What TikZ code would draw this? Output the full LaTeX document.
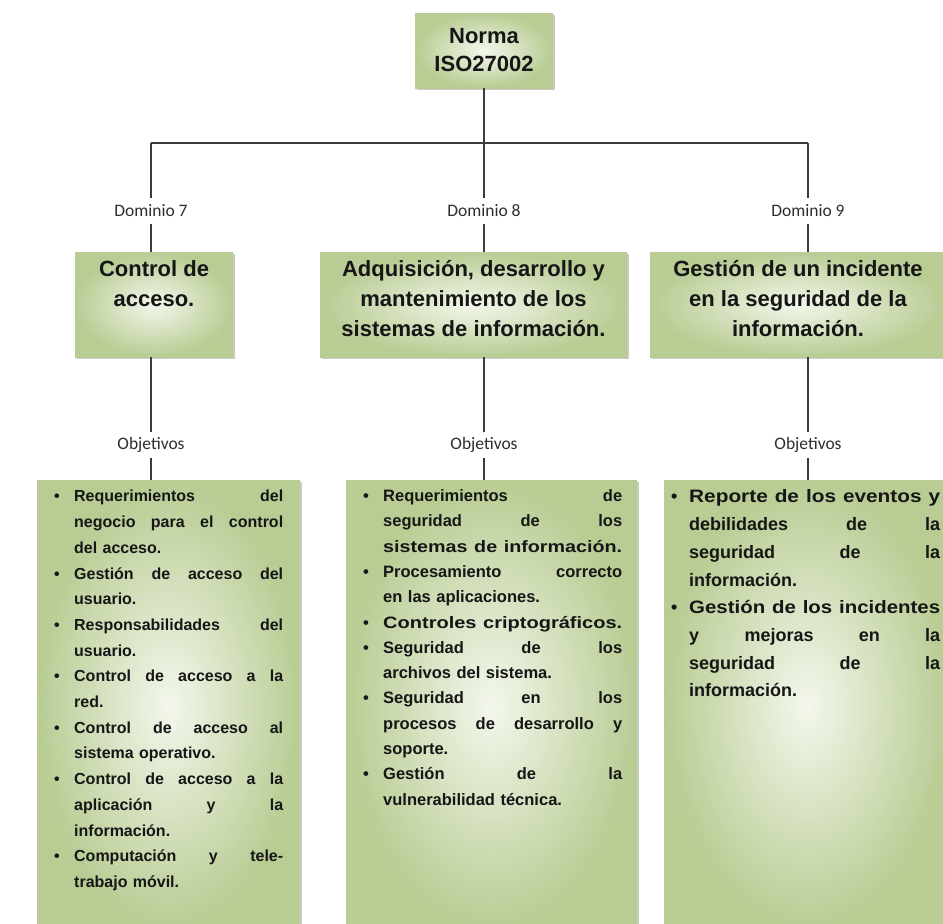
\documentclass[tikz,border=0pt]{standalone}
\usepackage{graphicx}
\usepackage{fontspec}
\setmainfont{Liberation Sans}
\newfontfamily\lblfont{Carlito}
\usetikzlibrary{shadows}

\definecolor{gouter}{HTML}{B8CC93}
\definecolor{ginner}{HTML}{F3F7EC}
\definecolor{wire}{HTML}{3C3C3C}
\definecolor{ink}{HTML}{161616}
\definecolor{lbl}{HTML}{2E2E2E}

\setlength\parskip{0pt}
\newlength\bind
\newlength\colw
% bullet lines: justified (spread words), fitted (widened glyphs) or natural width
\newcommand\bmark{\makebox[\bind][l]{\hspace{1pt}\textbullet}}
\newcommand\bfull[1]{\par\noindent\strut\bmark\hbox to \dimexpr\colw-\bind\relax{#1}}
\newcommand\bfit[1]{\par\noindent\strut\bmark\resizebox{\dimexpr\colw-\bind\relax}{\height}{#1}}
\newcommand\bnat[1]{\par\noindent\strut\bmark#1}
\newcommand\cfull[1]{\par\noindent\strut\hspace*{\bind}\hbox to \dimexpr\colw-\bind\relax{#1}}
\newcommand\cfit[1]{\par\noindent\strut\hspace*{\bind}\resizebox{\dimexpr\colw-\bind\relax}{\height}{#1}}
\newcommand\cnat[1]{\par\noindent\strut\hspace*{\bind}#1}
\newcommand\gap{\hspace{0pt plus 1fill}}

\tikzset{
  gbox/.style={rectangle, inner sep=0pt, inner color=ginner, outer color=gouter,
    drop shadow={shadow xshift=2pt, shadow yshift=-2pt, fill=black!45, opacity=.45}},
  ttl/.style={inner sep=0pt, align=center, text=ink,
    font=\fontsize{22}{30}\selectfont\bfseries},
  lab/.style={inner sep=0pt, minimum height=26pt, text=lbl,
    font=\lblfont\fontsize{17.5}{20}\selectfont},
  btext/.style={inner sep=0pt, anchor=north west, text=ink, align=left},
  wire/.style={draw=wire, line width=1.4pt}
}

\begin{document}
\begin{tikzpicture}[x=1pt,y=-1pt]
\useasboundingbox (0,0) rectangle (943,924);
\fill[white] (0,0) rectangle (943,924);

% root
\node[gbox, minimum width=138pt, minimum height=75pt] (iso) at (484,50.5) {};
\node[ttl, font=\fontsize{22}{28}\selectfont\bfseries] (isot) at (iso.center) {Norma\\ISO27002};

% bus
\coordinate (j7) at (151,143);
\coordinate (j8) at (484,143);
\coordinate (j9) at (808,143);

% domain labels
\node[lab] (d7) at (151,211) {Dominio 7};
\node[lab] (d8) at (484,211) {Dominio 8};
\node[lab] (d9) at (808,211) {Dominio 9};

% domain boxes
\node[gbox, minimum width=158pt, minimum height=105pt] (c7) at (154,304.5) {};
\node[gbox, minimum width=307pt, minimum height=105pt] (c8) at (473.5,304.5) {};
\node[gbox, minimum width=296pt, minimum height=105pt] (c9) at (798,304.5) {};
\node[ttl, anchor=north] (c7t) at ([yshift=-3pt]c7.north) {\strut Control de\\acceso.};
\node[ttl, anchor=north] (c8t) at ([yshift=-3pt]c8.north) {\strut Adquisición, desarrollo y\\mantenimiento de los\\sistemas de información.};
\node[ttl, anchor=north] (c9t) at ([yshift=-3pt]c9.north) {\strut Gestión de un incidente\\en la seguridad de la\\información.};

% objective labels
\node[lab] (o7) at (151,445) {Objetivos};
\node[lab] (o8) at (484,445) {Objetivos};
\node[lab] (o9) at (808,445) {Objetivos};

% objective boxes
\node[gbox, minimum width=263pt, minimum height=450pt, anchor=north west] (b7) at (37,480) {};
\node[gbox, minimum width=291pt, minimum height=450pt, anchor=north west] (b8) at (346,480) {};
\node[gbox, minimum width=285pt, minimum height=450pt, anchor=north west] (b9) at (664,480) {};

\node[btext, text width=230pt, font=\fontsize{16}{25.7}\selectfont\bfseries] (t7) at (53,476) {\setlength\bind{21pt}\setlength\colw{230pt}%
\bfull{Requerimientos\gap del}
\cfull{negocio\gap para\gap el\gap control}
\cnat{del acceso.}
\bfull{Gestión\gap de\gap acceso\gap del}
\cnat{usuario.}
\bfull{Responsabilidades\gap del}
\cnat{usuario.}
\bfull{Control\gap de\gap acceso\gap a\gap la}
\cnat{red.}
\bfull{Control\gap de\gap acceso\gap al}
\cnat{sistema operativo.}
\bfull{Control\gap de\gap acceso\gap a\gap la}
\cfull{aplicación\gap y\gap la}
\cnat{información.}
\bfull{Computación\gap y\gap tele-}
\cnat{trabajo móvil.}};

\node[btext, text width=261pt, font=\fontsize{16.5}{25.3}\selectfont\bfseries] (t8) at (362,476) {\setlength\bind{21pt}\setlength\colw{260pt}%
\bfull{Requerimientos\gap de}
\cfull{seguridad\gap de\gap los}
\cfit{sistemas de información.}
\bfull{Procesamiento\gap correcto}
\cnat{en las aplicaciones.}
\bfit{Controles criptográficos.}
\bfull{Seguridad\gap de\gap los}
\cnat{archivos del sistema.}
\bfull{Seguridad\gap en\gap los}
\cfull{procesos\gap de\gap desarrollo\gap y}
\cnat{soporte.}
\bfull{Gestión\gap de\gap la}
\cnat{vulnerabilidad técnica.}};

\node[btext, text width=272pt, font=\fontsize{18}{27.7}\selectfont\bfseries] (t9) at (670,475) {\setlength\bind{19pt}\setlength\colw{270pt}%
\bfit{Reporte de los eventos y}
\cfull{debilidades\gap de\gap la}
\cfull{seguridad\gap de\gap la}
\cnat{información.}
\bfit{Gestión de los incidentes}
\cfull{y\gap mejoras\gap en\gap la}
\cfull{seguridad\gap de\gap la}
\cnat{información.}};

% connectors
\draw[wire] (iso.south) -- (j8);
\draw[wire] (j7) -- (j9);
\draw[wire] (j7) -- (d7.north);
\draw[wire] (j8) -- (d8.north);
\draw[wire] (j9) -- (d9.north);
\draw[wire] (d7.south) -- (d7.south |- c7.north);
\draw[wire] (d8.south) -- (d8.south |- c8.north);
\draw[wire] (d9.south) -- (d9.south |- c9.north);
\draw[wire] (o7.north |- c7.south) -- (o7.north);
\draw[wire] (o8.north |- c8.south) -- (o8.north);
\draw[wire] (o9.north |- c9.south) -- (o9.north);
\draw[wire] (o7.south) -- (o7.south |- b7.north);
\draw[wire] (o8.south) -- (o8.south |- b8.north);
\draw[wire] (o9.south) -- (o9.south |- b9.north);
\end{tikzpicture}
\end{document}
